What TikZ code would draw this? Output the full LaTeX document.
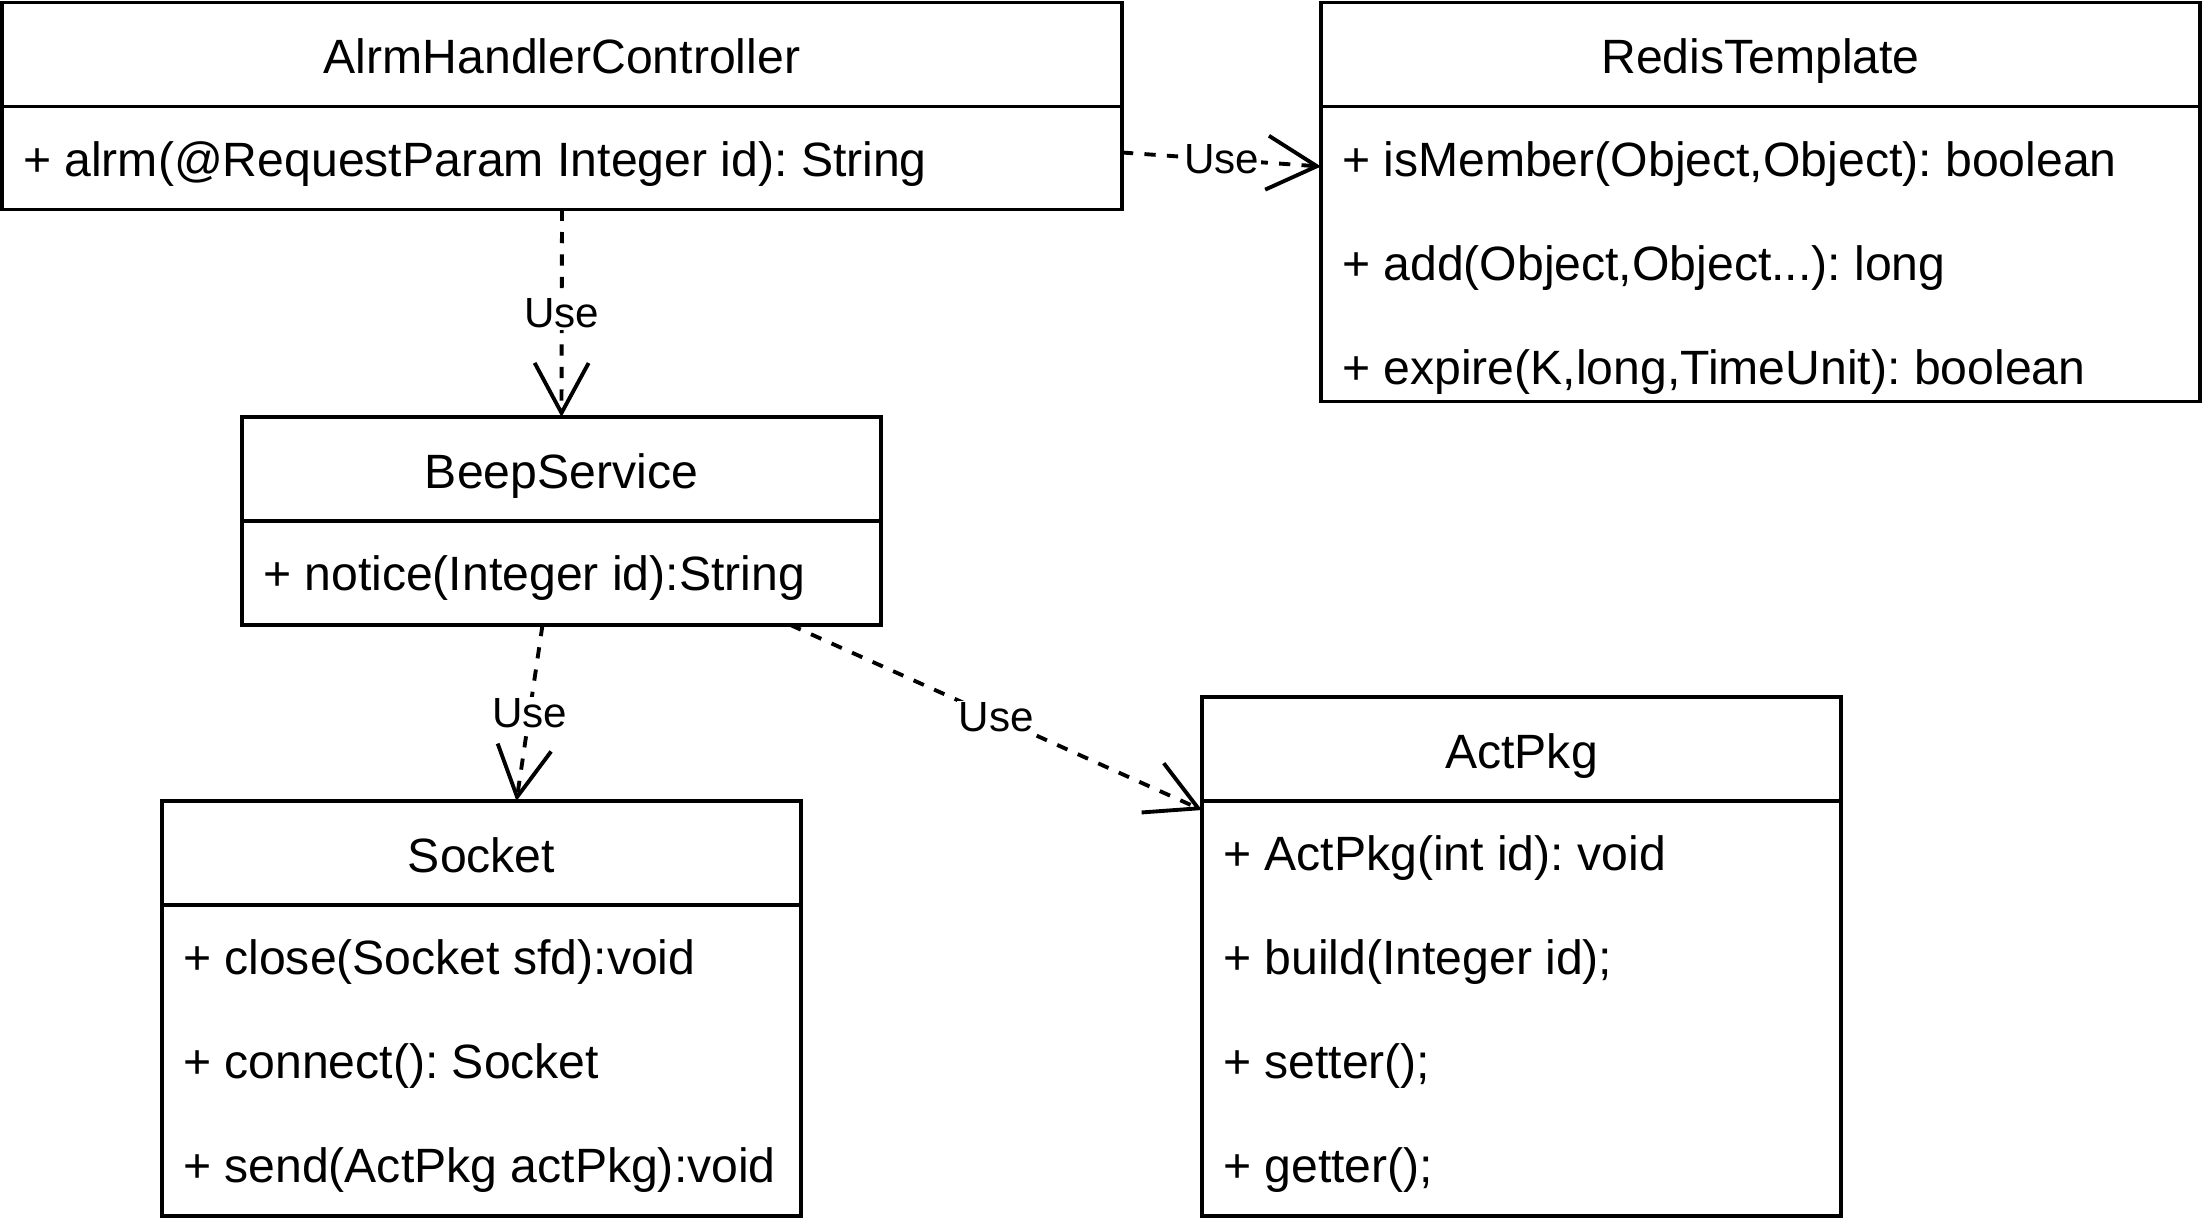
\documentclass[tikz,border=0pt]{standalone}
\usepackage{fontspec}
\setmainfont{Liberation Sans}
\frenchspacing
\usetikzlibrary{positioning,arrows.meta}

\tikzset{
  classname/.style={draw, line width=1.1pt, inner sep=0pt, outer sep=0pt,
    minimum height=1.04cm, text height=0.48cm, text depth=0.1cm,
    font=\fontsize{13.7pt}{16pt}\selectfont},
  classbody/.style={draw, line width=1.1pt, inner sep=0pt, outer sep=0pt},
  member/.style={inner xsep=0.21cm, inner ysep=0pt, outer sep=0pt,
    minimum height=1.04cm, text height=0.45cm, text depth=0.1cm,
    font=\fontsize{13.7pt}{16pt}\selectfont},
  use/.style={line width=1.1pt, dash pattern=on 3.2pt off 3.2pt,
    -{Straight Barb[length=0.5cm,width=0.54cm]}},
  uselabel/.style={fill=white, inner sep=0.5pt, font=\fontsize{12pt}{14pt}\selectfont}
}

\begin{document}
\begin{tikzpicture}
  \useasboundingbox (0,0) rectangle (22.04,-12.32);

  % AlrmHandlerController
  \node[classname, minimum width=11.2cm] (ahc) at (5.62,-0.545) {AlrmHandlerController};
  \node[classbody, minimum width=11.2cm, minimum height=1.03cm, below=0pt of ahc] (ahcbody) {};
  \node[member, below right=0pt and 0pt of ahcbody.north west] (ahc-1) {+ alrm(@RequestParam Integer id): String};

  % RedisTemplate
  \node[classname, minimum width=8.79cm] (redis) at (17.605,-0.545) {RedisTemplate};
  \node[classbody, minimum width=8.79cm, minimum height=2.95cm, below=0pt of redis] (redisbody) {};
  \node[member, below right=0pt and 0pt of redisbody.north west] (redis-1) {+ isMember(Object,Object): boolean};
  \node[member, below right=0pt and 0pt of redis-1.south west] (redis-2) {+ add(Object,Object...): long};
  \node[member, below right=0pt and 0pt of redis-2.south west] (redis-3) {+ expire(K,long,TimeUnit): boolean};

  % BeepService
  \node[classname, minimum width=6.39cm] (beep) at (5.615,-4.69) {BeepService};
  \node[classbody, minimum width=6.39cm, minimum height=1.04cm, below=0pt of beep] (beepbody) {};
  \node[member, below right=0pt and 0pt of beepbody.north west] (beep-1) {+ notice(Integer id):String};

  % Socket
  \node[classname, minimum width=6.39cm] (socket) at (4.815,-8.53) {Socket};
  \node[classbody, minimum width=6.39cm, minimum height=3.11cm, below=0pt of socket] (socketbody) {};
  \node[member, below right=0pt and 0pt of socketbody.north west] (socket-1) {+ close(Socket sfd):void};
  \node[member, below right=0pt and 0pt of socket-1.south west] (socket-2) {+ connect(): Socket};
  \node[member, below right=0pt and 0pt of socket-2.south west] (socket-3) {+ send(ActPkg actPkg):void};

  % ActPkg
  \node[classname, minimum width=6.39cm] (actpkg) at (15.215,-7.49) {ActPkg};
  \node[classbody, minimum width=6.39cm, minimum height=4.15cm, below=0pt of actpkg] (actpkgbody) {};
  \node[member, below right=0pt and 0pt of actpkgbody.north west] (actpkg-1) {+ ActPkg(int id): void};
  \node[member, below right=0pt and 0pt of actpkg-1.south west] (actpkg-2) {+ build(Integer id);};
  \node[member, below right=0pt and 0pt of actpkg-2.south west] (actpkg-3) {+ setter();};
  \node[member, below right=0pt and 0pt of actpkg-3.south west] (actpkg-4) {+ getter();};

  % dependencies
  \draw[use] ([yshift=0.055cm]ahcbody.east) -- node[uselabel] {Use} ([yshift=-0.08cm]redis-1.west);
  \draw[use] (ahcbody.south) -- node[uselabel] {Use} (beep.north);
  \draw[use] ([xshift=-0.19cm]beepbody.south) -- node[uselabel] {Use} ([xshift=0.35cm]socket.north);
  \draw[use] ([xshift=2.29cm]beepbody.south) -- node[uselabel] {Use} ([yshift=-0.09cm]actpkg.south west);
\end{tikzpicture}
\end{document}
